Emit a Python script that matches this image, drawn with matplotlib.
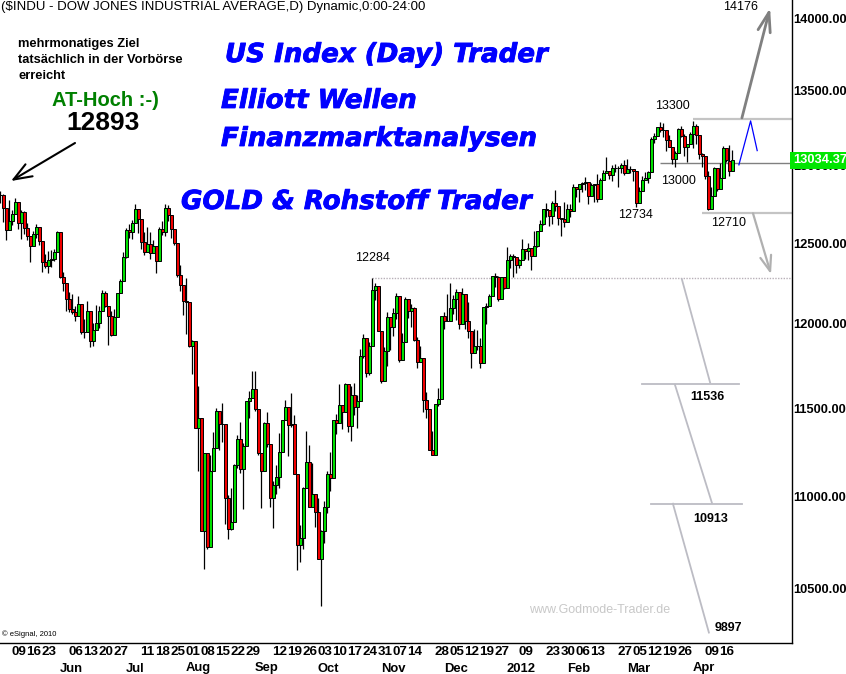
import numpy as np
import pandas as pd
import matplotlib
matplotlib.use("Agg")
import matplotlib.pyplot as plt
import matplotlib.patheffects as pe
from matplotlib.transforms import blended_transform_factory
from matplotlib.patches import FancyArrowPatch
from matplotlib.ticker import NullLocator, FixedLocator, NullFormatter

plt.rcParams['font.family'] = ['Liberation Sans', 'DejaVu Sans']

# ---------------- data: daily OHLC (open, high, low, close) ----------------
may_2011 = [
    (12810, 12876, 12779, 12807), (12807, 12832, 12754, 12808), (12808, 12815, 12637, 12724),
    (12724, 12724, 12521, 12584), (12584, 12777, 12584, 12639), (12639, 12712, 12614, 12685),
    (12685, 12792, 12685, 12760), (12760, 12763, 12591, 12630), (12630, 12712, 12525, 12696),
    (12696, 12702, 12556, 12596), (12596, 12631, 12518, 12548), (12548, 12548, 12381, 12480),
    (12480, 12576, 12480, 12560), (12560, 12624, 12535, 12605), (12605, 12605, 12487, 12512),
    (12512, 12512, 12317, 12381), (12381, 12433, 12346, 12356), (12356, 12452, 12313, 12395),
    (12395, 12458, 12348, 12403), (12403, 12466, 12390, 12442), (12442, 12575, 12442, 12570),
]
jun_2011 = [
    (12570, 12570, 12283, 12290), (12290, 12318, 12201, 12249), (12249, 12249, 12079, 12151),
    (12151, 12196, 12070, 12090), (12090, 12186, 12061, 12071), (12071, 12110, 12018, 12049),
    (12049, 12170, 12049, 12124), (12124, 12124, 11938, 11952), (11952, 12031, 11918, 11953),
    (11953, 12140, 11953, 12076), (12076, 12076, 11862, 11897), (11897, 12003, 11867, 11962),
    (11962, 12113, 11962, 12004), (12004, 12110, 11975, 12080), (12080, 12205, 12080, 12190),
    (12190, 12199, 12105, 12110), (12110, 12110, 11874, 12050), (12050, 12080, 11925, 11935),
    (11935, 12094, 11935, 12044), (12044, 12188, 12044, 12189), (12189, 12277, 12187, 12261),
    (12261, 12442, 12261, 12414),
]
jul_2011 = [
    (12414, 12598, 12408, 12583), (12583, 12620, 12530, 12570), (12570, 12645, 12528, 12626),
    (12626, 12753, 12626, 12719), (12719, 12719, 12566, 12657), (12657, 12657, 12466, 12506),
    (12506, 12572, 12424, 12447), (12447, 12600, 12447, 12492), (12492, 12570, 12399, 12437),
    (12437, 12520, 12437, 12480), (12480, 12480, 12311, 12385), (12385, 12603, 12385, 12587),
    (12587, 12640, 12553, 12572), (12572, 12752, 12547, 12724), (12724, 12741, 12638, 12681),
    (12681, 12681, 12531, 12593), (12593, 12593, 12488, 12501), (12501, 12501, 12288, 12303),
    (12303, 12365, 12203, 12240), (12240, 12240, 12055, 12143),
]
aug_2011 = [
    (12143, 12285, 11941, 12132), (12132, 12132, 11862, 11867), (11867, 11904, 11700, 11896),
    (11896, 11896, 11383, 11384), (11384, 11628, 11139, 11445), (11445, 11445, 10810, 10810),
    (10810, 11244, 10604, 11240), (11240, 11240, 10711, 10720), (10720, 11233, 10720, 11143),
    (11143, 11364, 11143, 11269), (11269, 11500, 11269, 11483), (11483, 11483, 11259, 11406),
    (11406, 11532, 11304, 11410), (11410, 11410, 10846, 10991), (10991, 11006, 10764, 10818),
    (10818, 11046, 10816, 10855), (10855, 11178, 10856, 11177), (11177, 11343, 11155, 11321),
    (11321, 11420, 11131, 11150), (11150, 11297, 10929, 11285), (11285, 11541, 11285, 11539),
    (11539, 11599, 11441, 11560), (11560, 11717, 11560, 11614),
]
sep_2011 = [
    (11614, 11717, 11483, 11494), (11494, 11494, 11231, 11240), (11240, 11240, 10932, 11139),
    (11139, 11418, 11139, 11415), (11415, 11476, 11274, 11296), (11296, 11296, 10942, 10992),
    (10992, 11082, 10823, 11061), (11061, 11175, 11010, 11106), (11106, 11358, 11047, 11247),
    (11247, 11434, 11247, 11433), (11433, 11545, 11430, 11509), (11509, 11509, 11228, 11401),
    (11401, 11588, 11390, 11409), (11409, 11461, 11124, 11125), (11125, 11125, 10597, 10734),
    (10734, 10843, 10640, 10771), (10771, 11052, 10711, 11044), (11044, 11367, 11044, 11191),
    (11191, 11286, 10938, 10939), (10939, 11188, 10939, 11011), (11011, 11011, 10831, 10913),
]
oct_2011 = [
    (10913, 10988, 10655, 10655), (10655, 10814, 10404, 10809), (10809, 10973, 10743, 10940),
    (10940, 11140, 10905, 11123), (11123, 11250, 11027, 11103), (11103, 11434, 11103, 11433),
    (11433, 11464, 11349, 11416), (11416, 11642, 11416, 11519), (11519, 11519, 11379, 11478),
    (11478, 11645, 11478, 11644), (11644, 11644, 11364, 11397), (11397, 11629, 11312, 11577),
    (11577, 11647, 11458, 11505), (11505, 11576, 11385, 11542), (11542, 11849, 11542, 11809),
    (11809, 11937, 11796, 11914), (11914, 11914, 11683, 11707), (11707, 11890, 11697, 11869),
    (11869, 12284, 11869, 12209), (12209, 12254, 12145, 12231), (12231, 12231, 11955, 11955),
]
nov_2011 = [
    (11955, 11955, 11645, 11658), (11658, 11861, 11658, 11836), (11836, 12071, 11745, 12044),
    (12044, 12044, 11846, 11983), (11983, 12097, 11925, 12068), (12068, 12190, 12030, 12170),
    (12170, 12170, 11769, 11781), (11781, 11948, 11781, 11894), (11894, 12164, 11894, 12154),
    (12154, 12154, 12035, 12079), (12079, 12120, 11980, 12096), (12096, 12105, 11900, 11906),
    (11906, 11920, 11734, 11771), (11771, 11870, 11771, 11796), (11796, 11796, 11475, 11547),
    (11547, 11594, 11445, 11494), (11494, 11494, 11257, 11258), (11258, 11370, 11231, 11232),
    (11232, 11524, 11232, 11523), (11523, 11618, 11512, 11556), (11556, 12046, 11556, 12046),
]
dec_2011 = [
    (12046, 12075, 11968, 12020), (12020, 12185, 12019, 12019), (12019, 12251, 12019, 12098),
    (12098, 12180, 12063, 12150), (12150, 12216, 12022, 12196), (12196, 12196, 11972, 11998),
    (11998, 12222, 11998, 12184), (12184, 12184, 11970, 12021), (12021, 12131, 11917, 11955),
    (11955, 11955, 11736, 11823), (11823, 11969, 11823, 11869), (11869, 11961, 11846, 11866),
    (11866, 11915, 11733, 11766), (11766, 12104, 11766, 12104), (12104, 12130, 11997, 12108),
    (12108, 12185, 12108, 12170), (12170, 12294, 12170, 12294), (12294, 12313, 12227, 12291),
    (12291, 12292, 12138, 12151), (12151, 12288, 12151, 12287), (12287, 12291, 12217, 12218),
]
jan_2012 = [
    (12218, 12479, 12218, 12397), (12397, 12430, 12346, 12418), (12418, 12430, 12290, 12416),
    (12416, 12416, 12315, 12360), (12360, 12398, 12345, 12393), (12393, 12529, 12393, 12462),
    (12462, 12462, 12400, 12449), (12449, 12499, 12394, 12471), (12471, 12471, 12333, 12422),
    (12422, 12576, 12422, 12482), (12482, 12579, 12475, 12579), (12579, 12650, 12579, 12624),
    (12624, 12720, 12618, 12720), (12720, 12754, 12664, 12709), (12709, 12709, 12611, 12676),
    (12676, 12770, 12621, 12757), (12757, 12841, 12707, 12735), (12735, 12735, 12614, 12660),
    (12660, 12660, 12548, 12654), (12654, 12760, 12600, 12633),
]
feb_2012 = [
    (12633, 12753, 12633, 12716), (12716, 12750, 12667, 12705), (12705, 12877, 12705, 12862),
    (12862, 12862, 12797, 12845), (12845, 12880, 12761, 12878), (12878, 12893, 12829, 12884),
    (12884, 12928, 12840, 12890), (12890, 12890, 12750, 12801), (12801, 12883, 12801, 12874),
    (12874, 12880, 12762, 12878), (12878, 12945, 12763, 12781), (12781, 12918, 12781, 12904),
    (12904, 12970, 12904, 12950), (12950, 13055, 12950, 12966), (12966, 12966, 12914, 12939),
    (12939, 13002, 12902, 12985), (12985, 13010, 12959, 12983), (12983, 13000, 12863, 12982),
    (12982, 13018, 12951, 13005), (13005, 13038, 12940, 12952),
]
mar_2012 = [
    (12952, 13045, 12952, 12980), (12980, 12995, 12949, 12978), (12978, 12978, 12898, 12963),
    (12963, 12963, 12732, 12759), (12759, 12862, 12759, 12837), (12837, 12932, 12837, 12908),
    (12908, 12955, 12907, 12922), (12922, 12965, 12888, 12960), (12960, 13190, 12960, 13178),
    (13178, 13216, 13150, 13194), (13194, 13253, 13194, 13253), (13253, 13289, 13222, 13233),
    (13233, 13280, 13192, 13239), (13239, 13239, 13096, 13170), (13170, 13203, 13125, 13125),
    (13125, 13125, 13012, 13046), (13046, 13095, 12991, 13081), (13081, 13250, 13081, 13242),
    (13242, 13261, 13190, 13198), (13198, 13209, 13060, 13126), (13126, 13126, 13021, 13146),
    (13146, 13220, 13146, 13212),
]
apr_2012 = [
    (13212, 13297, 13113, 13264), (13264, 13278, 13140, 13200), (13200, 13200, 13045, 13075),
    (13075, 13082, 12991, 13060), (13060, 13060, 12910, 12930), (12930, 12965, 12710, 12716),
    (12716, 12860, 12716, 12805), (12805, 12990, 12800, 12987), (12987, 12987, 12833, 12850),
    (12850, 13017, 12850, 12921), (12921, 13128, 12921, 13116), (13116, 13116, 13024, 13034),
    (13033, 13133, 12929, 12964), (12964, 13103, 12964, 13034),
]

holidays = ['2011-05-30', '2011-07-04', '2011-09-05', '2011-11-24', '2011-12-26',
            '2012-01-02', '2012-01-16', '2012-02-20', '2012-04-06']

day_label_dates = ['2011-05-09', '2011-05-16', '2011-05-23',
                   '2011-06-06', '2011-06-13', '2011-06-20', '2011-06-27',
                   '2011-07-11', '2011-07-18', '2011-07-25',
                   '2011-08-01', '2011-08-08', '2011-08-15', '2011-08-22', '2011-08-29',
                   '2011-09-12', '2011-09-19', '2011-09-26',
                   '2011-10-03', '2011-10-10', '2011-10-17', '2011-10-24', '2011-10-31',
                   '2011-11-07', '2011-11-14', '2011-11-28',
                   '2011-12-05', '2011-12-12', '2011-12-19', '2011-12-27',
                   '2012-01-09', '2012-01-23', '2012-01-30',
                   '2012-02-06', '2012-02-13', '2012-02-27',
                   '2012-03-05', '2012-03-12', '2012-03-19', '2012-03-26',
                   '2012-04-09', '2012-04-16']
month_names = ['Jun', 'Jul', 'Aug', 'Sep', 'Oct', 'Nov', 'Dec', '2012', 'Feb', 'Mar', 'Apr']
month_start_dates = ['2011-06-01', '2011-07-01', '2011-08-01', '2011-09-01', '2011-10-03',
                     '2011-11-01', '2011-12-01', '2012-01-03', '2012-02-01', '2012-03-01',
                     '2012-04-02']

y_ticks = [10500, 11000, 11500, 12000, 12500, 13000, 13500, 14000]
last_price = 13034.37

# ---------------- assemble ----------------
ohlc = np.array(may_2011 + jun_2011 + jul_2011 + aug_2011 + sep_2011 + oct_2011 +
                nov_2011 + dec_2011 + jan_2012 + feb_2012 + mar_2012 + apr_2012, dtype=float)
dates = pd.bdate_range('2011-05-02', '2012-04-20', freq='C', holidays=holidays)
n = min(len(dates), len(ohlc))
dates = dates[:n]
ohlc = ohlc[:n]
opens, highs, lows, closes = ohlc.T
x = np.arange(n)
date_pos = {d.strftime('%Y-%m-%d'): i for i, d in enumerate(dates)}

W, H = 846, 674
fig = plt.figure(figsize=(W / 100, H / 100), dpi=100)
fig.patch.set_facecolor('white')
ax_right_px = 791.5
ax_bottom_px = 643
ax = fig.add_axes([0, (H - ax_bottom_px) / H, ax_right_px / W, ax_bottom_px / H])
ax.set_yscale('log')
ax.set_ylim(10213, 14135)
ax.set_xlim(1.0, (ax_right_px + 3) / 3)

GREEN = '#00e000'
RED = '#f00000'

up = closes >= opens
body_bottom = np.minimum(opens, closes)
body_height = np.maximum(np.abs(closes - opens), 2.0)
ax.vlines(x, lows, highs, color='black', lw=0.9, zorder=2)
ax.bar(x, body_height, bottom=body_bottom, width=1.0,
       color=np.where(up, GREEN, RED), edgecolor='black', linewidth=0.7, zorder=3)

# spines / ticks
for s in ['left', 'top']:
    ax.spines[s].set_visible(False)
ax.spines['right'].set_linewidth(1.0)
ax.spines['bottom'].set_linewidth(1.0)
ax.set_xticks([])
ax.yaxis.tick_right()
ax.yaxis.set_major_locator(FixedLocator(y_ticks))
ax.yaxis.set_minor_locator(NullLocator())
ax.yaxis.set_minor_formatter(NullFormatter())
ax.set_yticklabels([f'{v:.2f}' for v in y_ticks])
ax.tick_params(axis='y', length=0, pad=1.2, labelsize=9.3)
for lab in ax.get_yticklabels():
    lab.set_fontweight('bold')

# x labels
tr = blended_transform_factory(ax.transData, ax.transAxes)
for d in day_label_dates:
    if d in date_pos:
        ax.text(date_pos[d] - 0.15, -9 / ax_bottom_px, d[-2:], transform=tr, ha='left', va='center',
                fontsize=9.6, fontweight='bold', clip_on=False)
for name, d in zip(month_names, month_start_dates):
    if d in date_pos:
        ax.text(date_pos[d] - 0.1, -25.5 / ax_bottom_px, name, transform=tr, ha='left', va='center',
                fontsize=9.4, fontweight='bold', clip_on=False)

# last price box
trr = blended_transform_factory(ax.transAxes, ax.transData)
ax.text(1.0018, last_price, f'{last_price:.2f}', transform=trr, ha='left', va='center',
        fontsize=9.3, fontweight='bold', color='white', clip_on=False, zorder=10,
        bbox=dict(boxstyle='square,pad=0.2', fc='#00e600', ec='none'))

# ---------------- annotation lines ----------------
xr = (ax_right_px + 3) / 3
ax.hlines(12284, 125, xr, colors='#b8b0b8', linestyles=(0, (1, 1)), lw=1.0, zorder=1)
ax.hlines(13310, 232, xr, colors='#c4c4c4', lw=1.6, zorder=1)
ax.hlines(13018, 221, xr, colors='#808080', lw=1.0, zorder=1)
ax.hlines(12693, 235, xr, colors='#c4c4c4', lw=1.6, zorder=1)

ax.plot([247.3, 251.2, 253.4], [13005, 13297, 13099], color='#0000ff', lw=0.9, zorder=4)

ax.annotate('', xy=(257.7, 14078), xytext=(248.3, 13317), annotation_clip=False,
            arrowprops=dict(arrowstyle='->,head_length=1.4,head_width=0.45', mutation_scale=10,
                            color='#808080', lw=2.0, shrinkA=0, shrinkB=0))
ax.annotate('', xy=(258.0, 12306), xytext=(252.0, 12690), annotation_clip=False,
            arrowprops=dict(arrowstyle='->,head_length=1.1,head_width=0.4', mutation_scale=10,
                            color='#b0b0b0', lw=1.6, shrinkA=0, shrinkB=0))

lg = '#bcbcc4'
ax.plot([228.3, 237.7], [12274, 11650], color=lg, lw=1.3)
ax.plot([215, 247.3], [11642, 11642], color=lg, lw=1.3)
ax.plot([226, 238.3], [11636, 10963], color=lg, lw=1.3)
ax.plot([218, 248.3], [10958, 10958], color=lg, lw=1.3)
ax.plot([225.3, 237.3], [10958, 10267], color=lg, lw=1.3)

# ---------------- annotation texts (data coords) ----------------
def lbl(xi, yp, s, bold=False):
    ax.text(xi, yp, s, ha='center', va='center', fontsize=9,
            fontweight='bold' if bold else 'normal', color='black', clip_on=False, zorder=6)

lbl(125.3, 12410, '12284')
lbl(225.3, 13401, '13300')
lbl(227.0, 12899, '13000')
lbl(212.7, 12677, '12734')
lbl(244.0, 12631, '12710')
lbl(247.7, 14085, '14176')
lbl(236.7, 11563, '11536', bold=True)
lbl(238.0, 10876, '10913', bold=True)
lbl(243.7, 10293, '9897', bold=True)

# ---------------- figure texts (pixel positions) ----------------
def fp(px, py):
    return (px / W, 1 - py / H)

fig.text(*fp(1, 7), '($INDU - DOW JONES INDUSTRIAL AVERAGE,D) Dynamic,0:00-24:00',
         ha='left', va='center', fontsize=9.5)
for k, line in enumerate(['mehrmonatiges Ziel', 'tatsächlich in der Vorbörse', 'erreicht']):
    fig.text(*fp(18, 44 + 16 * k), line, ha='left', va='center', fontsize=9.3, fontweight='bold')
fig.text(*fp(105, 100), 'AT-Hoch :-)', ha='center', va='center', fontsize=14.5,
         fontweight='bold', color='#008000')
fig.text(*fp(103, 123), '12893', ha='center', va='center', fontsize=19, fontweight='bold')
fig.add_artist(FancyArrowPatch(fp(75, 143), fp(11, 181), transform=fig.transFigure,
                               arrowstyle='->,head_length=1.3,head_width=0.5', mutation_scale=10,
                               color='black', lw=1.5, shrinkA=0, shrinkB=0))

blue_kw = dict(ha='left', va='center', fontsize=18.8, fontweight='bold', fontstyle='italic',
               color='#0000ff', family='DejaVu Sans',
               path_effects=[pe.withStroke(linewidth=0.6, foreground='#0000ff')])
fig.text(*fp(225, 55), 'US Index (Day) Trader', **blue_kw)
fig.text(*fp(221, 101), 'Elliott Wellen', **blue_kw)
fig.text(*fp(221, 139), 'Finanzmarktanalysen', **blue_kw)
fig.text(*fp(181, 202), 'GOLD & Rohstoff Trader', **blue_kw)

fig.text(*fp(600, 610), 'www.Godmode-Trader.de', ha='center', va='center', fontsize=9,
         color='#c8c8c8')
fig.text(*fp(2, 634), '© eSignal, 2010', ha='left', va='center', fontsize=5.5)

fig.savefig('out.png', dpi=100)
